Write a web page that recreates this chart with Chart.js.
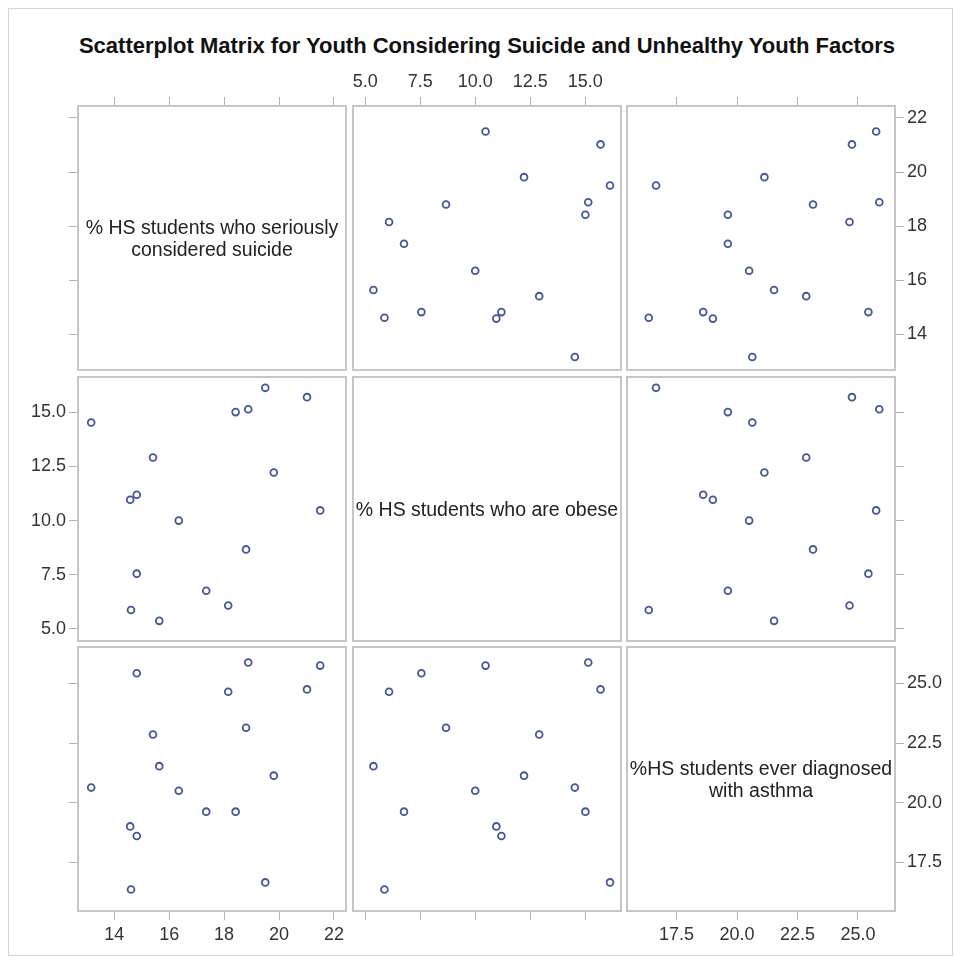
<!DOCTYPE html>
<html>
<head>
<meta charset="utf-8">
<title>Scatterplot Matrix</title>
<script src="https://cdn.jsdelivr.net/npm/chart.js@4.4.1/dist/chart.umd.min.js"></script>
<style>
  html, body { margin: 0; padding: 0; background: #fff; overflow: hidden; }
  #page { position: relative; width: 954px; height: 961px; }
  #frame { position: absolute; left: 8px; top: 8px; width: 943px; height: 946px; border: 1px solid #d4d4d4; }
  #title { position: absolute; top: 33px; left: 487px; transform: translateX(-50%); white-space: nowrap;
           font: bold 22px "Liberation Sans", Arial, sans-serif; color: #111; }
  .cell { position: absolute; }
  .diag { position: absolute; display: flex; align-items: center; justify-content: center; text-align: center;
          white-space: pre; font: 19.5px/22px "Liberation Sans", Arial, sans-serif; color: #222; }
</style>
</head>
<body>
<div id="page">
  <div id="frame"></div>
  <div id="title">Scatterplot Matrix for Youth Considering Suicide and Unhealthy Youth Factors</div>
</div>
<script>
// --- data (one value per state) ---
const SUICIDE = [13.16, 15.41, 14.58, 14.82, 16.35, 14.82, 14.61, 15.64, 17.35, 18.15, 18.80, 18.42, 18.88, 19.50, 21.02, 19.81, 21.50];
const OBESE   = [14.53, 12.91, 10.96, 11.19, 10.00, 7.55, 5.87, 5.37, 6.76, 6.08, 8.67, 15.01, 15.14, 16.13, 15.70, 12.22, 10.47];
const ASTHMA  = [20.63, 22.86, 19.00, 18.60, 20.50, 25.43, 16.35, 21.53, 19.62, 24.65, 23.14, 19.62, 25.88, 16.65, 24.75, 21.13, 25.75];

const VAR_LABELS = ['% HS students who seriously\nconsidered suicide', '% HS students who are obese', '%HS students ever diagnosed\nwith asthma'];

const SUICIDE_TICKS = [14, 16, 18, 20, 22];
const SUICIDE_TICK_LABELS = ['14', '16', '18', '20', '22'];
const OBESE_TICKS = [5, 7.5, 10, 12.5, 15];
const OBESE_TICK_LABELS = ['5.0', '7.5', '10.0', '12.5', '15.0'];
const ASTHMA_TICKS = [17.5, 20, 22.5, 25];
const ASTHMA_TICK_LABELS = ['17.5', '20.0', '22.5', '25.0'];

// --- layout ---
const FONT = '"Liberation Sans", Arial, sans-serif';
const MARKER = '#445694';
const M = 70;                       // room for axes around every panel
const COL_LEFT = [78, 353, 627];
const ROW_TOP = [106, 377, 647];
const PW = 268, PH = 264;

Chart.defaults.font.family = FONT;

const vars = [
  { values: SUICIDE, ticks: SUICIDE_TICKS, labels: SUICIDE_TICK_LABELS, min: 12.68, max: 22.44 },
  { values: OBESE,   ticks: OBESE_TICKS,   labels: OBESE_TICK_LABELS,   min: 4.44,  max: 16.63 },
  { values: ASTHMA,  ticks: ASTHMA_TICKS,  labels: ASTHMA_TICK_LABELS,  min: 15.45, max: 26.53 }
];

function axis(pos, v, marks, showLabels) {
  const horiz = pos === 'top' || pos === 'bottom';
  return {
    type: 'linear',
    position: pos,
    min: v.min,
    max: v.max,
    afterBuildTicks: s => { s.ticks = v.ticks.map(t => ({ value: t })); },
    afterFit: s => { if (horiz) s.height = M; else s.width = M; },
    grid: { drawOnChartArea: false, drawTicks: marks, tickLength: 9, color: '#b4b4b4', lineWidth: 1 },
    border: { display: true, color: '#c6c6c6', width: 2 },
    ticks: {
      display: showLabels,
      padding: horiz ? 4 : 3,
      autoSkip: false,
      maxRotation: 0,
      color: '#333',
      font: { family: FONT, size: 18 },
      callback: (val, i) => v.labels[i]
    }
  };
}

const page = document.getElementById('page');

for (let r = 0; r < 3; r++) {
  for (let c = 0; c < 3; c++) {
    const xv = vars[c], yv = vars[r];
    const canvas = document.createElement('canvas');
    canvas.className = 'cell';
    canvas.width = PW + 2 * M;
    canvas.height = PH + 2 * M;
    canvas.style.left = (COL_LEFT[c] - M) + 'px';
    canvas.style.top = (ROW_TOP[r] - M) + 'px';
    page.appendChild(canvas);

    const points = r === c ? [] : xv.values.map((x, i) => ({ x: x, y: yv.values[i] }));

    new Chart(canvas, {
      type: 'scatter',
      data: {
        datasets: [{
          data: points,
          xAxisID: 'x',
          yAxisID: 'y',
          pointStyle: 'circle',
          pointRadius: 3.4,
          pointBorderWidth: 1.8,
          pointBorderColor: MARKER,
          pointBackgroundColor: 'rgba(255,255,255,0)'
        }]
      },
      options: {
        responsive: false,
        animation: false,
        layout: { padding: 0 },
        plugins: { legend: { display: false }, tooltip: { enabled: false } },
        scales: {
          x:  axis('bottom', xv, r === 2, r === 2 && c !== 1),
          x2: axis('top',    xv, r === 0, r === 0 && c === 1),
          y:  axis('left',   yv, c === 0, c === 0 && r === 1),
          y2: axis('right',  yv, c === 2, c === 2 && r !== 1)
        }
      }
    });

    if (r === c) {
      const d = document.createElement('div');
      d.className = 'diag';
      d.style.left = COL_LEFT[c] + 'px';
      d.style.top = ROW_TOP[r] + 'px';
      d.style.width = PW + 'px';
      d.style.height = PH + 'px';
      d.textContent = VAR_LABELS[r];
      page.appendChild(d);
    }
  }
}
</script>
</body>
</html>
